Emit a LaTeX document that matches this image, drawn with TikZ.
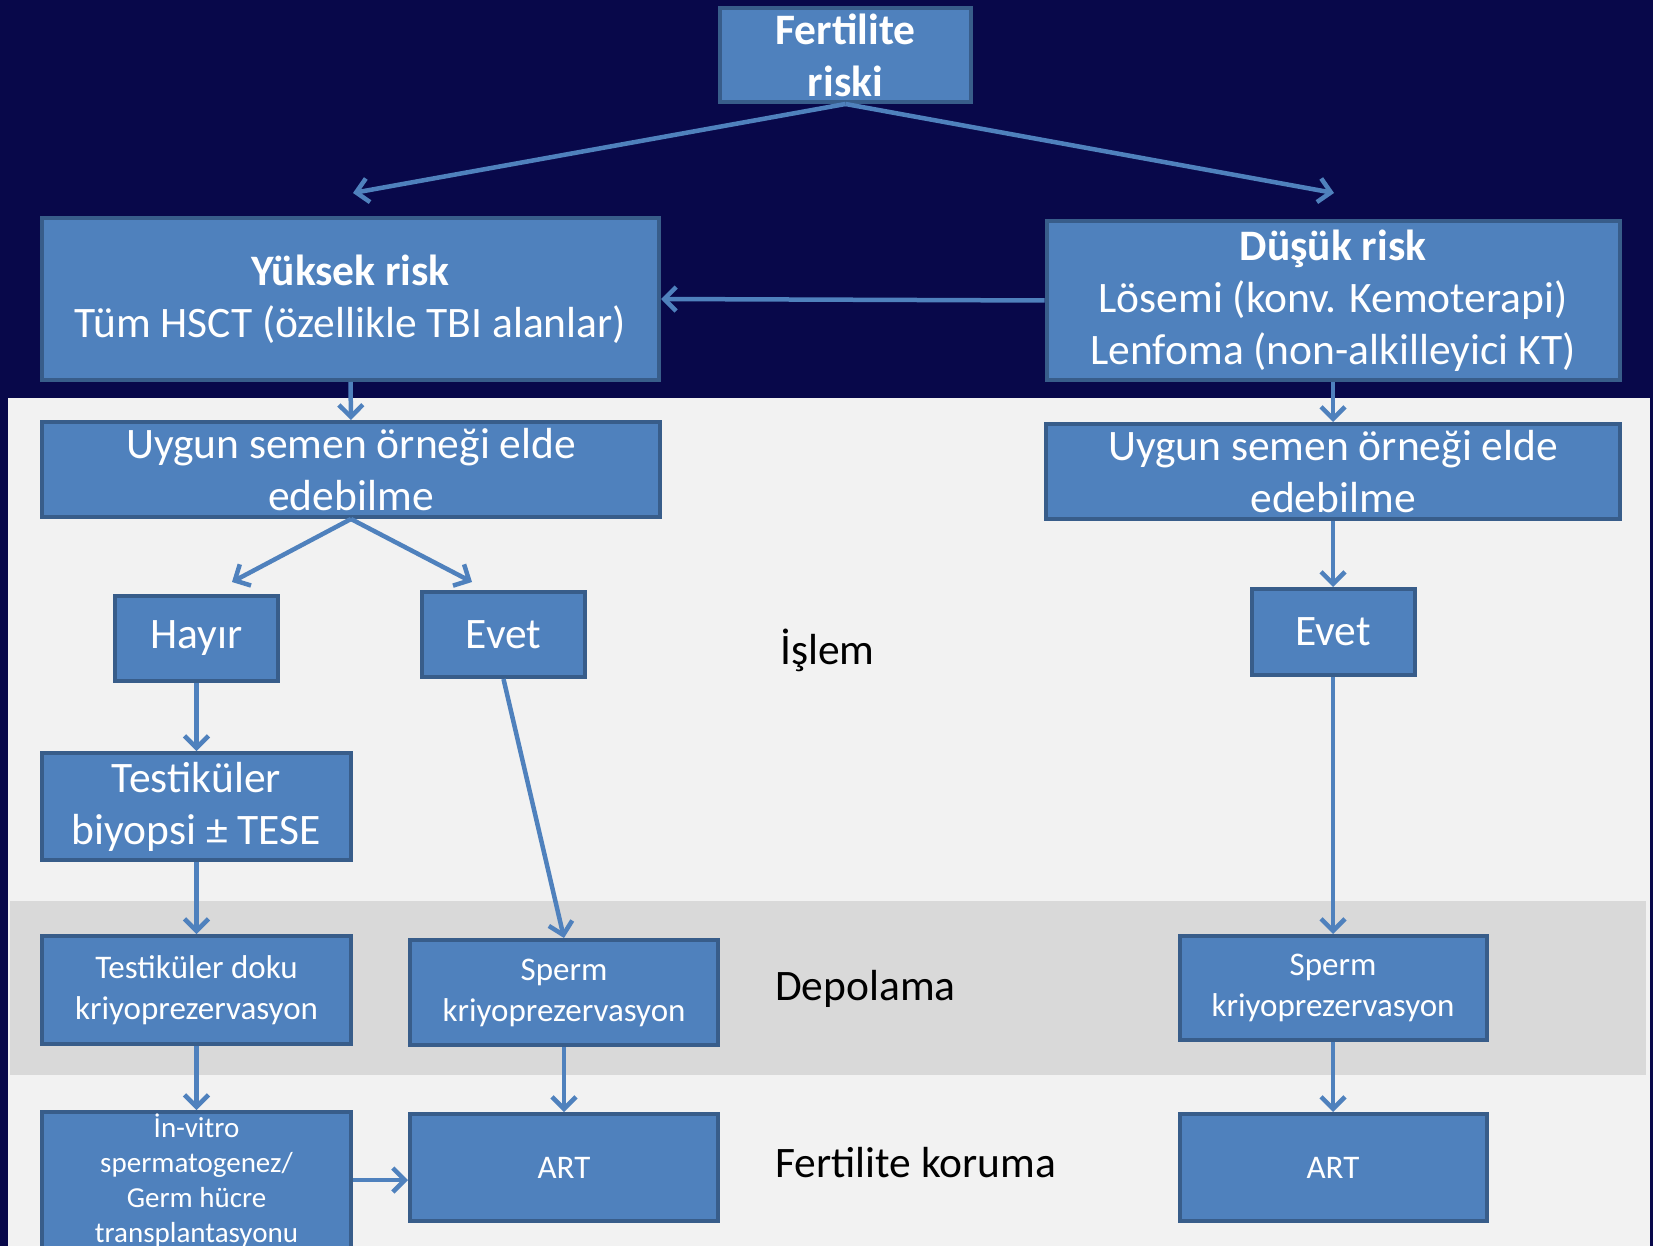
\documentclass[tikz,border=0pt]{standalone}
\usepackage{fontspec}
\setmainfont{Carlito}
\usetikzlibrary{arrows.meta}

\definecolor{navy}{RGB}{8,8,74}
\definecolor{panel}{RGB}{242,242,242}
\definecolor{band}{RGB}{217,217,217}
\definecolor{boxfill}{RGB}{79,129,189}
\definecolor{boxedge}{RGB}{56,93,138}

\begin{document}
\begin{tikzpicture}[x=1pt,y=-1pt,>={Straight Barb[length=12pt,width=24pt]},
    box/.style={rectangle,draw=boxedge,fill=boxfill,line width=4pt,text=white,inner sep=0pt,align=center,font=\fontsize{43.5}{52}\selectfont},
    small box/.style={box,font=\fontsize{33}{41}\selectfont},
    link/.style={->,draw=boxfill,line width=4.5pt},
    stage/.style={anchor=west,text=black,inner sep=0pt,font=\fontsize{43.5}{52}\selectfont}]

            \clip (0,0) rectangle (1653,1246);
            \fill[navy] (0,0) rectangle (1653,1246);
            \fill[panel] (8,398) rectangle (1650,1246);
            \fill[band] (10,901) rectangle (1646,1075);

            \node[box, minimum width=251pt, minimum height=94pt] (1) at (845.5,55) {\textbf{Fertilite}\\\textbf{riski}};
            \node[box, minimum width=617pt, minimum height=162pt] (2) at (350.5,299) {\textbf{Yüksek risk}\\Tüm HSCT (özellikle TBI alanlar)};
            \node[box, minimum width=573pt, minimum height=159pt] (3) at (1333,300.5) {\textbf{Düşük risk}\\Lösemi (konv. Kemoterapi)\\Lenfoma (non-alkilleyici KT)};
            \node[box, minimum width=618pt, minimum height=95pt] (4) at (351,469.5) {Uygun semen örneği elde\\edebilme};
            \node[box, minimum width=574pt, minimum height=95pt] (5) at (1333,471.5) {Uygun semen örneği elde\\edebilme};
            \node[box, minimum width=163pt, minimum height=85pt] (6) at (196.5,638.5) {Hayır};
            \node[box, minimum width=163pt, minimum height=85pt] (7) at (503.5,634.5) {Evet};
            \node[box, minimum width=163pt, minimum height=86pt] (8) at (1333,632) {Evet};
            \node[box, minimum width=309pt, minimum height=107pt] (9) at (196.5,806.5) {Testiküler\\biyopsi ± TESE};
            \node[small box, minimum width=309pt, minimum height=108pt] (10) at (196.5,990) {Testiküler doku\\kriyoprezervasyon};
            \node[small box, minimum width=308pt, minimum height=105pt] (11) at (564,992.5) {Sperm\\kriyoprezervasyon};
            \node[small box, minimum width=307pt, minimum height=104pt] (12) at (1333,988) {Sperm\\kriyoprezervasyon};
            \node[box, font=\fontsize{29}{35}\selectfont, minimum width=309pt, minimum height=136pt] (13) at (196.5,1180) {İn-vitro\\spermatogenez/\\Germ hücre\\transplantasyonu};
            \node[small box, minimum width=308pt, minimum height=107pt] (14) at (564,1167.5) {ART};
            \node[small box, minimum width=307pt, minimum height=107pt] (15) at (1333,1167.5) {ART};

            \node[stage] (islem) at (780,650) {İşlem};
            \node[stage] (depo) at (775,989) {Depolama};
            \node[stage] (koruma) at (775,1163) {Fertilite koruma};

            \coordinate (yl) at (353,193);
            \coordinate (yr) at (1334,193);
            \coordinate (hl) at (232,582);
            \coordinate (hr) at (472,582);

            \draw[link] (1.south) to (yl);
            \draw[link] (1.south) to (yr);
            \draw[link] (3.west) to (2.east);
            \draw[link] (2.south) to (4.north);
            \draw[link] (3.south) to (5.north);
            \draw[link] (4.south) to (hl);
            \draw[link] (4.south) to (hr);
            \draw[link] (5) to (8);
            \draw[link] (6) to (9);
            \draw[link] (9) to (10);
            \draw[link] (10) to (13);
            \draw[link] (7.south) to (11.north);
            \draw[link] (11) to (14);
            \draw[link] (8) to (12);
            \draw[link] (12) to (15);
            \draw[link] (13.east) to (13.east -| 14.west);

            ;
        \end{tikzpicture}
\end{document}
